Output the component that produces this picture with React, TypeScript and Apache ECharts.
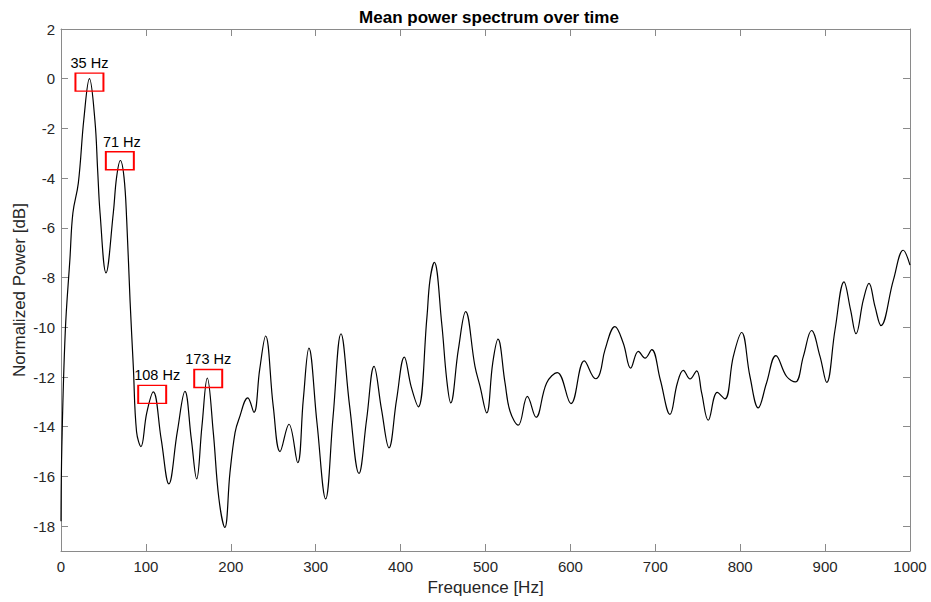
import React, { useEffect, useRef } from "react";
import * as echarts from "echarts";

const freqHz: number[] = [
  0, 1, 5, 10.6, 14, 20.4, 27, 33.5, 40, 43.2, 46, 53, 61.6, 65.5, 69.9, 74.2, 77.4, 81.3, 85.2, 89, 94.2,
  101, 108.7, 118, 127, 137, 146, 153.5, 159.8, 166, 172.3, 179.4, 186, 193, 199, 205, 209.5, 220, 227.3,
  234, 241, 250, 258, 268.5, 278.8, 285.4, 292, 301.5, 311.7, 320.5, 329.8, 340, 351, 360, 368.7, 377.5,
  386.3, 395.3, 404.4, 412.5, 420.9, 431, 434.6, 439.7, 448.4, 454.3, 459, 468, 476.6, 487.6, 493.5, 501.4,
  508.5, 514.7, 523, 528.9, 538.6, 549.3, 559.5, 572, 584.6, 600.7, 616.4, 629.8, 634.9, 640.8, 652.5,
  662.3, 671, 680, 687.9, 695.8, 705.8, 717.3, 726, 733, 740.9, 748.7, 754.6, 762.4, 773, 782, 791.9,
  801.7, 811.5, 821.3, 831, 842, 854.7, 865, 874.4, 884, 894, 901.9, 911.7, 922.3, 930, 936.4, 945,
  951.7, 958.8, 965.8, 980.4, 992, 1000,
];

const powerDb: number[] = [
  -17.8, -14.8, -10.2, -7.2, -5.4, -4.2, -1.6, 0.0, -1.7, -3.7, -5.4, -7.81, -5.4, -3.96, -3.29, -3.96,
  -5.7, -8.9, -11.6, -14.2, -14.8, -13.44, -12.6, -14.5, -16.3, -14.2, -12.58, -14.5, -16.1, -13.98,
  -12.04, -14.24, -16.9, -18.05, -15.85, -14.24, -13.7, -12.84, -13.42, -11.7, -10.35, -13.18, -15.0,
  -13.9, -15.45, -12.9, -10.84, -13.84, -16.9, -13.58, -10.26, -13.18, -15.88, -13.7, -11.57, -13.3,
  -14.85, -12.9, -11.2, -12.4, -13.2, -9.6, -8.1, -7.39, -9.84, -12.1, -13.04, -10.9, -9.37, -11.57,
  -12.37, -13.44, -11.44, -10.48, -12.24, -13.38, -13.94, -12.78, -13.62, -12.24, -11.82, -13.07,
  -11.35, -12.07, -11.84, -10.9, -9.97, -10.64, -11.64, -10.97, -11.24, -10.9, -12.1, -13.5, -12.24,
  -11.73, -12.08, -11.75, -12.64, -13.74, -12.62, -12.88, -11.17, -10.21, -11.98, -13.24, -12.24,
  -11.14, -11.98, -12.2, -11.17, -10.13, -11.17, -12.22, -10.1, -8.17, -9.3, -10.26, -8.9, -8.23,
  -9.17, -9.93, -8.1, -6.9, -7.5,
];

const annotLabels: string[] = ["35 Hz", "71 Hz", "108 Hz", "173 Hz"];
const annotFreq: number[] = [33.5, 69.3, 107.4, 173.4];
const annotPower: number[] = [-0.14, -3.3, -12.7, -12.06];

const xTickMin = 0;
const xTickMax = 1000;
const xTickStep = 100;
const yMin = -19;
const yMax = 2;
const yTickStep = 2;

const FONT = "'Liberation Sans', Arial, Helvetica, sans-serif";
const AXIS_COLOR = "#8a8a8a";
const TEXT_COLOR = "#262626";

export default function App() {
  const ref = useRef<HTMLDivElement | null>(null);

  useEffect(() => {
    if (!ref.current) return;
    const chart = echarts.init(ref.current, undefined, { renderer: "svg" });

    const lineData = freqHz.map((f, i) => [f, powerDb[i]]);
    const labelOffsets: number[][] = [[0, 0], [2, 0], [5, 0], [0, 0]];
    const markData = annotLabels.map((name, i) => ({
      name,
      coord: [annotFreq[i], annotPower[i]],
      label: { offset: labelOffsets[i] },
    }));

    const axisLine = { show: true, onZero: false, lineStyle: { color: AXIS_COLOR, width: 1 } };
    const axisTick = { show: true, inside: true, length: 7, lineStyle: { color: AXIS_COLOR, width: 1 } };
    const yFormatter = (v: number) => (Math.abs(v % yTickStep) < 1e-9 ? String(v) : "");
    const xFormatter = (v: number) => String(v);

    chart.setOption({
      animation: false,
      backgroundColor: "#ffffff",
      textStyle: { fontFamily: FONT },
      title: {
        text: "Mean power spectrum over time",
        left: 484,
        top: 4,
        textAlign: "center",
        textStyle: { fontFamily: FONT, fontSize: 17, fontWeight: "bold", color: "#000000" },
      },
      grid: {
        left: 61,
        right: 21,
        top: 29,
        bottom: 51,
        containLabel: false,
        outerBoundsMode: "none",
      },
      xAxis: [
        {
          type: "value",
          position: "bottom",
          min: xTickMin,
          max: xTickMax,
          interval: xTickStep,
          axisLine,
          axisTick,
          splitLine: { show: false },
          axisLabel: { color: TEXT_COLOR, fontSize: 15, fontFamily: FONT, margin: 8, formatter: xFormatter },
          name: "Frequence [Hz]",
          nameLocation: "middle",
          nameGap: 28,
          nameTextStyle: { color: TEXT_COLOR, fontSize: 17, fontFamily: FONT },
        },
        {
          type: "value",
          position: "top",
          min: xTickMin,
          max: xTickMax,
          interval: xTickStep,
          axisLine,
          axisTick,
          splitLine: { show: false },
          axisLabel: { show: false },
        },
      ],
      yAxis: [
        {
          type: "value",
          position: "left",
          min: yMin,
          max: yMax,
          minInterval: yTickStep,
          maxInterval: yTickStep,
          axisLine,
          axisTick,
          splitLine: { show: false },
          axisLabel: {
            color: TEXT_COLOR,
            fontSize: 15,
            fontFamily: FONT,
            margin: 6,
            showMinLabel: false,
            formatter: yFormatter,
          },
          name: "Normalized Power [dB]",
          nameLocation: "middle",
          nameGap: 33,
          nameMoveOverlap: false,
          nameRotate: 90,
          nameTextStyle: { color: TEXT_COLOR, fontSize: 17, fontFamily: FONT },
        },
        {
          type: "value",
          position: "right",
          min: yMin,
          max: yMax,
          minInterval: yTickStep,
          maxInterval: yTickStep,
          axisLine,
          axisTick,
          splitLine: { show: false },
          axisLabel: { show: false },
        },
      ],
      series: [
        {
          type: "line",
          xAxisIndex: 0,
          yAxisIndex: 0,
          data: lineData,
          smooth: 0.4,
          showSymbol: false,
          symbol: "none",
          lineStyle: { color: "#000000", width: 1.2 },
          markPoint: {
            symbol: "rect",
            symbolSize: [28, 18],
            itemStyle: { color: "rgba(0,0,0,0)", borderColor: "#ff0000", borderWidth: 1.6 },
            label: {
              show: true,
              position: "top",
              distance: 2,
              formatter: (p: any) => p.name,
              color: "#000000",
              fontSize: 14.5,
              fontFamily: FONT,
            },
            emphasis: { disabled: true },
            data: markData,
          },
        },
      ],
    });

    return () => {
      chart.dispose();
    };
  }, []);

  return (
    <div
      ref={ref}
      style={{ position: "fixed", left: 0, top: 0, width: 931, height: 602, background: "#fff" }}
    />
  );
}
